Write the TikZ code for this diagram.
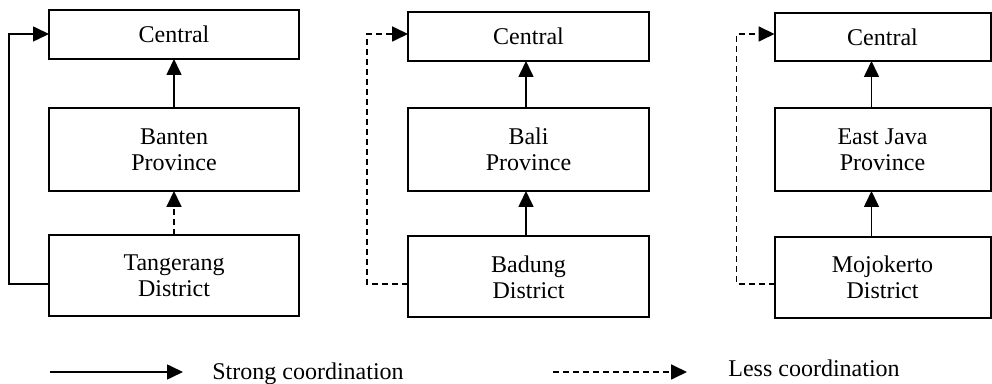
\documentclass[tikz,border=0pt]{standalone}
\usepackage{fontspec}
\setmainfont{Liberation Serif}
\usetikzlibrary{arrows.meta,calc}
\begin{document}
\begin{tikzpicture}[x=0.5pt,y=-0.5pt,
  box/.style={draw,line width=1pt,rectangle,inner sep=0pt,outer sep=0pt,align=center,
    font=\fontsize{12}{13}\selectfont},
  tip/.style={-{Triangle[length=8pt,width=7.5pt]}},
  strongline/.style={tip,line width=0.8pt},
  lessline/.style={tip,line width=0.9pt,dash pattern=on 3pt off 2pt},
  legendtext/.style={anchor=base west,inner sep=0pt,font=\fontsize{12}{13}\selectfont}]
\useasboundingbox (0,0) rectangle (992,384);

% Banten column
\node[box,minimum width=125pt,minimum height=24.5pt] (central1) at (174,34.5) {Central};
\node[box,minimum width=125pt,minimum height=41.5pt] (prov1) at (174,149.5) {Banten\\Province};
\node[box,minimum width=125pt,minimum height=40.5pt] (dist1) at (174,275.5) {Tangerang\\District};

% Bali column
\node[box,minimum width=120.5pt,minimum height=24.5pt] (central2) at (528.5,36.5) {Central};
\node[box,minimum width=120.5pt,minimum height=41.5pt] (prov2) at (528.5,149.5) {Bali\\Province};
\node[box,minimum width=120.5pt,minimum height=40.5pt] (dist2) at (528.5,277) {Badung\\District};

% East Java column
\node[box,minimum width=108pt,minimum height=24pt] (central3) at (882.5,37) {Central};
\node[box,minimum width=108pt,minimum height=41.5pt] (prov3) at (882.5,149.5) {East Java\\Province};
\node[box,minimum width=108pt,minimum height=40.5pt] (dist3) at (882.5,277.5) {Mojokerto\\District};

% vertical links
\draw[strongline] (prov1.north) -- (central1.south);
\draw[lessline] (dist1.north) -- (prov1.south);
\draw[strongline] ([xshift=-1.25pt]prov2.north) -- ([xshift=-1.25pt]central2.south);
\draw[strongline] ([xshift=-1.25pt]dist2.north) -- ([xshift=-1.25pt]prov2.south);
\draw[strongline] ([xshift=-5.5pt]prov3.north) -- ([xshift=-5.5pt]central3.south);
\draw[strongline] ([xshift=-5.5pt]dist3.north) -- ([xshift=-5.5pt]prov3.south);

% district to central bypass
\draw[strongline] ([yshift=-4.25pt]dist1.west) -- ++(-40,0) |- ([yshift=0.25pt]central1.west);
\draw[lessline] ([yshift=-3.5pt]dist2.west) -- ++(-41,0) |- ([yshift=1.25pt]central2.west);
\draw[lessline] ([yshift=-3.25pt]dist3.west) -- ++(-38,0) |- ([yshift=1.5pt]central3.west);

% legend
\coordinate (strongA) at (50,372);
\coordinate (strongB) at (183,372);
\draw[strongline] (strongA) -- (strongB);
\node[legendtext] (strongT) at (212,380) {Strong coordination};
\coordinate (lessA) at (553,372);
\coordinate (lessB) at (687,372);
\draw[lessline] (lessA) -- (lessB);
\node[legendtext] (lessT) at (728,377) {Less coordination};
\end{tikzpicture}
\end{document}
